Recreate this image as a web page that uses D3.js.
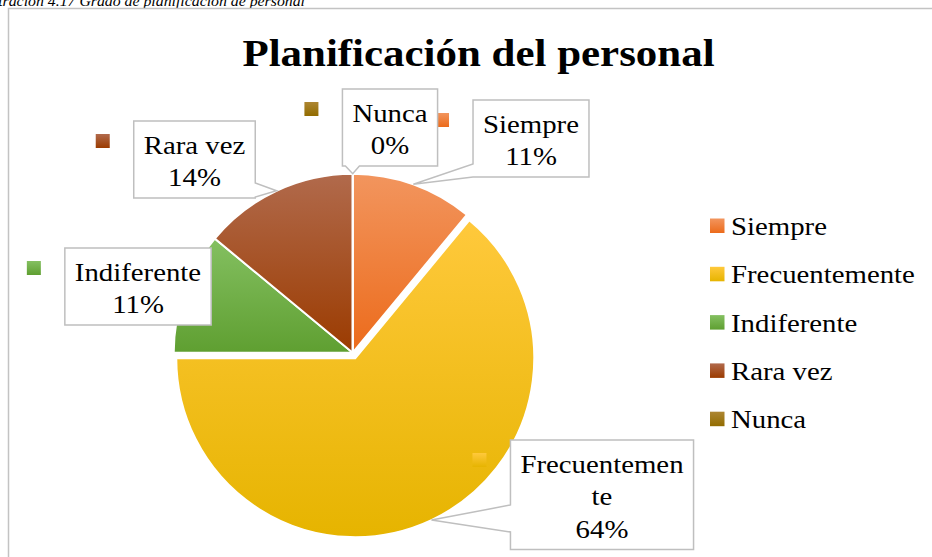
<!DOCTYPE html>
<html>
<head>
<meta charset="utf-8">
<script src="https://cdn.jsdelivr.net/npm/d3@7"></script>
<style>
  body { margin: 0; background: #fff; }
  text { font-family: "Liberation Serif", "Times New Roman", serif; fill: #000; }
</style>
</head>
<body>
<div id="chart"></div>
<script>
// data
var categories = ["Siempre", "Frecuentemente", "Indiferente", "Rara vez", "Nunca"];
var values = [11, 64, 11, 14, 0];
var colorsTop = ["#f2955e", "#ffc93c", "#84c061", "#b16a4c", "#ad8632"];
var colorsBottom = ["#ec6b1b", "#e6b400", "#5f9f31", "#9b3b00", "#926c00"];

var width = 932, height = 557;
var cx = 352.7, cy = 352.7, radius = 179;
var stretch = 1.13; // text in the picture is a bit wider than tall

// where the data label boxes sit (callout side + base offsets along that side)
var labelLayout = {
  "Siempre":        {cx: 531,   top: 100, side: "left",   base: [64, 77]},
  "Frecuentemente": {cx: 602,   top: 440, side: "left",   base: [65, 92], wrap: 12},
  "Indiferente":    {cx: 138,   top: 248, side: null},
  "Rara vez":       {cx: 194.5, top: 121, side: "right",  base: [62, 76]},
  "Nunca":          {cx: 390,   top: 89,  side: "bottom", base: [3, 17]}
};
var explode = {"Frecuentemente": 6};

var svg = d3.select("#chart")
  .append("svg")
    .attr("width", width)
    .attr("height", height);

// gradients
var defs = svg.append("defs");
categories.forEach(function (c, i) {
  var g = defs.append("linearGradient")
    .attr("id", "grad" + i)
    .attr("x1", 0).attr("y1", 0).attr("x2", 0).attr("y2", 1);
  g.append("stop").attr("offset", "0%").attr("stop-color", colorsTop[i]);
  g.append("stop").attr("offset", "100%").attr("stop-color", colorsBottom[i]);
});

// caption above the chart (cut off at the top, as in the page it came from)
svg.append("text")
  .attr("transform", "translate(305,5.5) scale(" + stretch + ",1)")
  .attr("text-anchor", "end")
  .style("font-style", "italic")
  .style("font-size", "14px")
  .text("Ilustración 4.17 Grado de planificación de personal");

// chart border
svg.append("rect")
  .attr("x", 8.5).attr("y", 8.5)
  .attr("width", 1000).attr("height", 700)
  .style("fill", "none")
  .style("stroke", "#c3c3c3")
  .style("stroke-width", 1.5);

// title
svg.append("text")
  .attr("transform", "translate(478.5,66) scale(" + stretch + ",1)")
  .attr("text-anchor", "middle")
  .style("font-weight", "bold")
  .style("font-size", "38px")
  .text("Planificación del personal");

// pie
var data = categories.map(function (c, i) { return {name: c, value: values[i], idx: i}; });
var pie = d3.pie().sort(null).value(function (d) { return d.value; });
var arcs = pie(data);
var arc = d3.arc().innerRadius(0).outerRadius(radius);
var edge = d3.arc().innerRadius(radius).outerRadius(radius);

function offset(a) {
  var e = explode[a.data.name] || 0;
  var m = (a.startAngle + a.endAngle) / 2;
  return [Math.sin(m) * e, -Math.cos(m) * e];
}

var pieG = svg.append("g").attr("transform", "translate(" + cx + "," + cy + ")");
pieG.selectAll("path")
  .data(arcs)
  .enter()
  .append("path")
    .attr("d", arc)
    .attr("transform", function (a) { var o = offset(a); return "translate(" + o[0] + "," + o[1] + ")"; })
    .style("fill", function (a) { return "url(#grad" + a.data.idx + ")"; })
    .style("stroke", "#fff")
    .style("stroke-width", 2);

// data labels with callouts
var lineH = 32.5, labelSize = 25.5;
var labG = svg.append("g");

function calloutPath(x, y, w, h, side, base, tip) {
  var p = "M" + x + "," + y + "H" + (x + w);
  if (side === "right") p += "V" + (y + base[0]) + "L" + tip[0] + "," + tip[1] + "L" + (x + w) + "," + (y + base[1]);
  p += "V" + (y + h);
  if (side === "bottom") p += "H" + (x + base[1]) + "L" + tip[0] + "," + tip[1] + "L" + (x + base[0]) + "," + (y + h);
  p += "H" + x;
  if (side === "left") p += "V" + (y + base[1]) + "L" + tip[0] + "," + tip[1] + "L" + x + "," + (y + base[0]);
  return p + "Z";
}

arcs.forEach(function (a) {
  var L = labelLayout[a.data.name];
  var name = a.data.name;
  var lines = [];
  if (L.wrap && name.length > L.wrap) { lines.push(name.slice(0, L.wrap)); lines.push(name.slice(L.wrap)); }
  else lines.push(name);
  lines.push(a.data.value + "%");

  var g = labG.append("g");
  var texts = lines.map(function (t, k) {
    return g.append("text")
      .attr("transform", "translate(" + L.cx + "," + (L.top + lineH * (k + 1)) + ") scale(" + stretch + ",1)")
      .attr("text-anchor", "middle")
      .style("font-size", labelSize + "px")
      .text(t);
  });
  var tw = d3.max(texts, function (t) { return t.node().getComputedTextLength() * stretch; });
  var w = tw + 20, h = lines.length * lineH + 12;
  var x = L.cx - w / 2, y = L.top;

  var c = edge.centroid(a), o = offset(a);
  var tip = [cx + c[0] + o[0], cy + c[1] + o[1]];

  g.insert("path", "text")
    .attr("d", calloutPath(x, y, w, h, L.side, L.base, tip))
    .style("fill", "#fff")
    .style("stroke", "#bfbfbf")
    .style("stroke-width", 1.5);

  // legend key shown next to the label
  labG.append("rect")
    .attr("x", x - 38).attr("y", y + 13)
    .attr("width", 14).attr("height", 14)
    .style("fill", "url(#grad" + a.data.idx + ")");
});

// legend
var legend = svg.append("g").attr("transform", "translate(710,218.5)");
var rows = legend.selectAll("g")
  .data(categories)
  .enter()
  .append("g")
    .attr("transform", function (d, i) { return "translate(0," + (i * 48.3) + ")"; });
rows.append("rect")
  .attr("width", 14.5).attr("height", 14.5)
  .style("fill", function (d, i) { return "url(#grad" + i + ")"; });
rows.append("text")
  .attr("transform", "translate(21,16.5) scale(" + stretch + ",1)")
  .style("font-size", labelSize + "px")
  .text(function (d) { return d; });
</script>
</body>
</html>
